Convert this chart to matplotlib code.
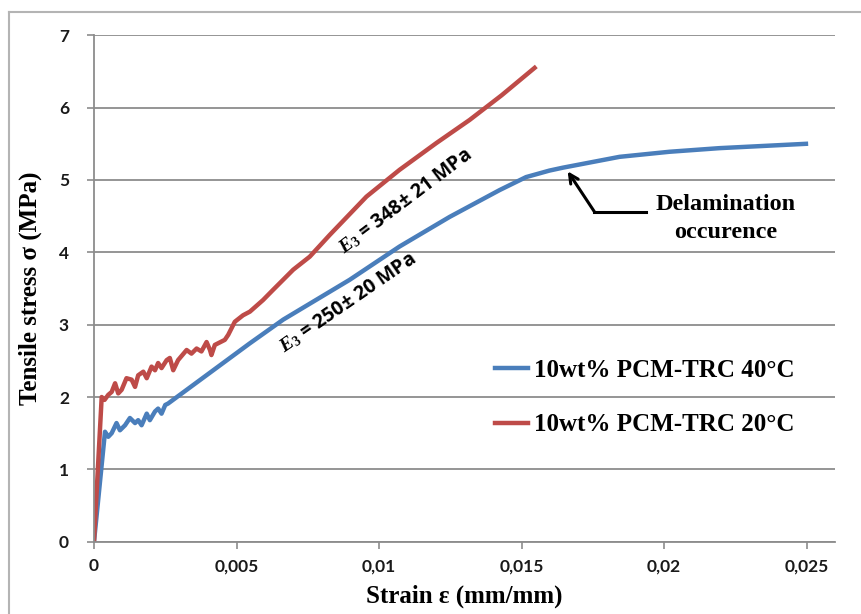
import matplotlib
matplotlib.use("Agg")
import matplotlib.pyplot as plt
from matplotlib.lines import Line2D

plt.rcParams['mathtext.fontset'] = 'custom'
plt.rcParams['mathtext.it'] = 'Liberation Serif:italic:bold'
plt.rcParams['mathtext.rm'] = 'Liberation Serif:bold'

blue_x = [0, 0.000386, 0.0005, 0.00062, 0.00079, 0.00091, 0.00109, 0.00126, 0.00144, 0.00155,
          0.00167, 0.00185, 0.00196, 0.00214, 0.00225, 0.00237, 0.0025, 0.0026, 0.00546, 0.00664,
          0.00897, 0.01072, 0.01248, 0.01423, 0.01516, 0.01598, 0.01645, 0.01844, 0.02019, 0.02194, 0.02498]
blue_y = [0, 1.52, 1.45, 1.50, 1.64, 1.54, 1.61, 1.71, 1.64, 1.68,
          1.61, 1.77, 1.68, 1.80, 1.84, 1.77, 1.89, 1.91, 2.74, 3.07,
          3.62, 4.08, 4.49, 4.86, 5.04, 5.13, 5.17, 5.32, 5.39, 5.44, 5.50]

red_x = [0, 0.00027, 0.00037, 0.0005, 0.00062, 0.00074, 0.00085, 0.00097, 0.00114, 0.00132, 0.00144,
         0.00155, 0.00173, 0.00185, 0.00202, 0.00214, 0.00225, 0.00237, 0.00255, 0.00266, 0.00278,
         0.00295, 0.00325, 0.00342, 0.0036, 0.00377, 0.00395, 0.00407, 0.00412, 0.00424, 0.00459,
         0.00471, 0.00494, 0.00523, 0.00547, 0.00593, 0.00628, 0.00699, 0.00757, 0.00827, 0.00956,
         0.01072, 0.01201, 0.01318, 0.0143, 0.01546]
red_y = [0, 2.00, 1.96, 2.03, 2.07, 2.19, 2.05, 2.10, 2.26, 2.24, 2.14,
         2.30, 2.35, 2.26, 2.42, 2.37, 2.47, 2.40, 2.51, 2.54, 2.37,
         2.51, 2.65, 2.60, 2.67, 2.63, 2.76, 2.65, 2.58, 2.72, 2.79,
         2.86, 3.04, 3.13, 3.18, 3.34, 3.48, 3.76, 3.94, 4.24, 4.77,
         5.14, 5.51, 5.83, 6.17, 6.55]

x_ticks = [0, 0.005, 0.01, 0.015, 0.02, 0.025]
x_tick_labels = ['0', '0,005', '0,01', '0,015', '0,02', '0,025']
y_ticks = [0, 1, 2, 3, 4, 5, 6, 7]
series_labels = ['10wt% PCM-TRC 40°C', '10wt% PCM-TRC 20°C']

W, H = 861, 614
fig = plt.figure(figsize=(W / 100, H / 100), dpi=100)
ax = fig.add_axes([94 / W, 1 - 541.7 / H, (835 - 94) / W, (541.7 - 35.3) / H])

grid_c = '#8c8c8c'
ax.set_xlim(0, 0.026)
ax.set_ylim(0, 7)
ax.set_yticks(y_ticks)
ax.set_xticks(x_ticks)
ax.set_xticklabels(x_tick_labels)
ax.yaxis.grid(True, color=grid_c, lw=1.3)
ax.set_axisbelow(True)
for s in ['top', 'right']:
    ax.spines[s].set_visible(False)
for s in ['left', 'bottom']:
    ax.spines[s].set_color(grid_c)
    ax.spines[s].set_linewidth(1.3)
ax.tick_params(axis='both', direction='out', length=5, color=grid_c, width=1.2,
               labelsize=12.5, labelcolor='#1a1a1a')
for lab in ax.get_xticklabels() + ax.get_yticklabels():
    lab.set_fontfamily('Lato')
    lab.set_fontweight('bold')
ax.tick_params(axis='x', pad=7)
ax.tick_params(axis='y', pad=13)

lb, = ax.plot(blue_x, blue_y, color='#4A7EBB', lw=3.2, solid_joinstyle='round', label=series_labels[0])
lr, = ax.plot(red_x, red_y, color='#BE4B48', lw=3.2, solid_joinstyle='round', label=series_labels[1])

ax.set_xlabel('Strain ε (mm/mm)', fontfamily='Liberation Serif', fontweight='bold', fontsize=18, labelpad=7)
ax.set_ylabel('Tensile stress σ (MPa)', fontfamily='Liberation Serif', fontweight='bold', fontsize=18, labelpad=12)

leg = ax.legend(handles=[lb, lr], loc='upper left', bbox_to_anchor=(0.511, 0.405), frameon=False,
                prop={'family': 'Liberation Serif', 'weight': 'bold', 'size': 18},
                handlelength=1.3, handletextpad=0.25, labelspacing=1.25)

ax.text(0.01093, 4.70, r'$E_3$ = 348± 21 MPa', rotation=37, ha='center', va='center',
        fontfamily='Open Sans', fontweight='bold', fontsize=14, rotation_mode='anchor')
ax.text(0.00891, 3.30, r'$E_3$ = 250± 20 MPa', rotation=34.5, ha='center', va='center',
        fontfamily='Open Sans', fontweight='bold', fontsize=14, rotation_mode='anchor')

ax.plot([0.01937, 0.01756], [4.56, 4.56], color='black', lw=2.2)
ax.annotate('', xy=(0.01662, 5.12), xytext=(0.01756, 4.56),
            arrowprops=dict(arrowstyle='->', color='black', lw=2.2, mutation_scale=16, shrinkA=0, shrinkB=0))
ax.text(0.02215, 4.66, 'Delamination', ha='center', va='center', fontfamily='Liberation Serif',
        fontweight='bold', fontsize=17.5)
ax.text(0.02215, 4.27, 'occurence', ha='center', va='center', fontfamily='Liberation Serif',
        fontweight='bold', fontsize=17.5)

bc = '#b4b4b4'
fig.add_artist(Line2D([9 / W, 9 / W], [0, 1 - 12 / H], transform=fig.transFigure, color=bc, lw=1.5))
fig.add_artist(Line2D([9 / W, 1], [1 - 12 / H, 1 - 12 / H], transform=fig.transFigure, color=bc, lw=1.5))

fig.savefig('out.png', dpi=100)
